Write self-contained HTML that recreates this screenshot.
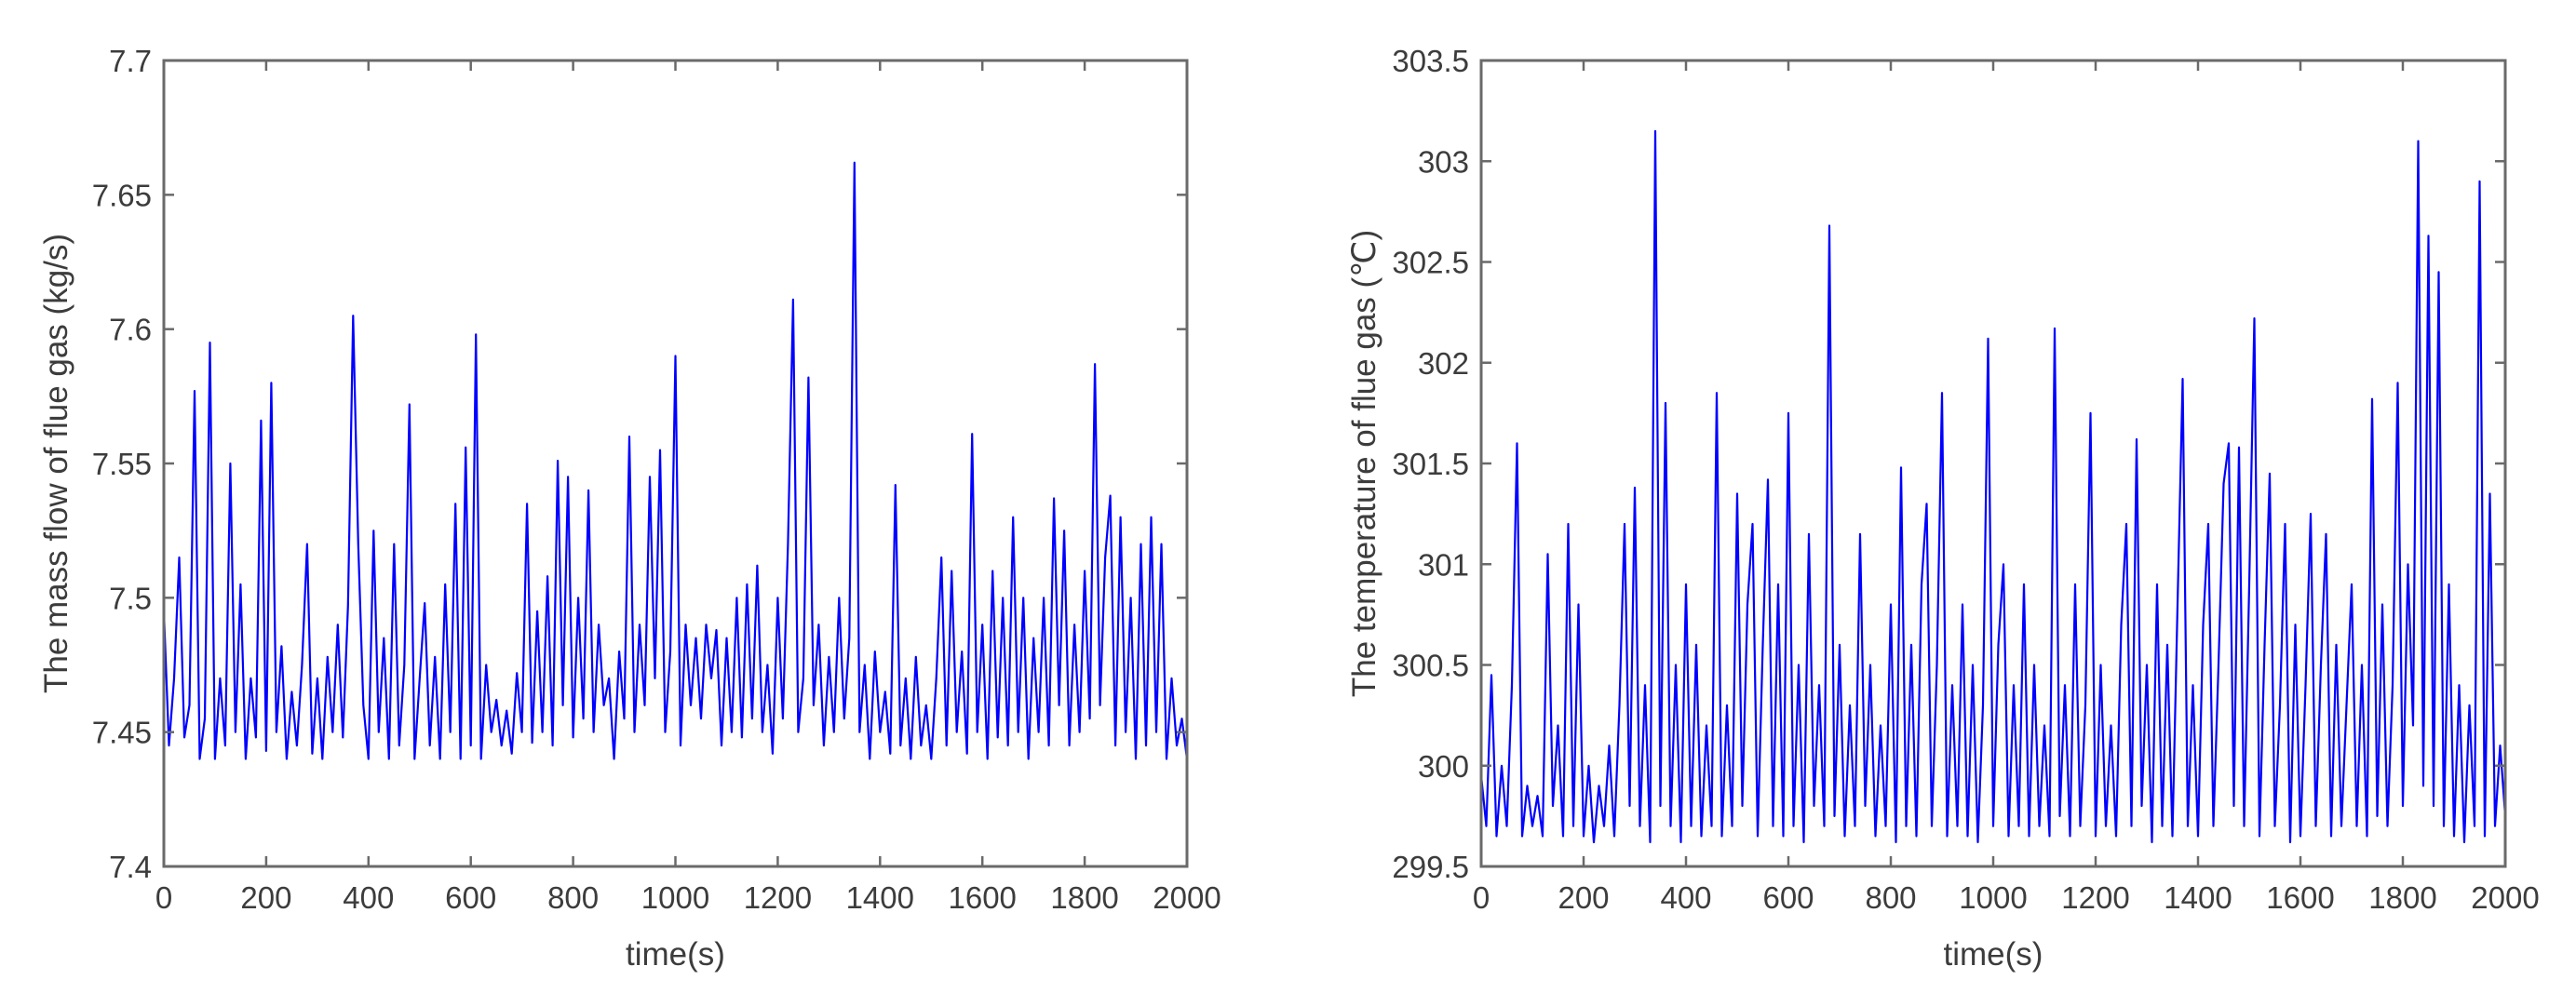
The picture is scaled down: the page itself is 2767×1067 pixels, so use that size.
<!DOCTYPE html>
<html><head><meta charset="utf-8"><style>
html,body{margin:0;padding:0;background:#fff;}
svg{display:block;}
text{font-family:"Liberation Sans",sans-serif;fill:#3c3c3c;}
</style></head><body>
<svg id="fig" width="2767" height="1067" viewBox="0 0 2767 1067" xmlns="http://www.w3.org/2000/svg"></svg>
<script>
const timeStep = 10;
const massFlow = [7.495,7.445,7.47,7.515,7.448,7.46,7.577,7.44,7.455,7.595,7.44,7.47,7.445,7.55,7.45,7.505,7.44,7.47,7.448,7.566,7.443,7.58,7.45,7.482,7.44,7.465,7.445,7.475,7.52,7.442,7.47,7.44,7.478,7.45,7.49,7.448,7.497,7.605,7.52,7.46,7.44,7.525,7.45,7.485,7.44,7.52,7.445,7.475,7.572,7.44,7.47,7.498,7.445,7.478,7.44,7.505,7.45,7.535,7.44,7.556,7.445,7.598,7.44,7.475,7.45,7.462,7.445,7.458,7.442,7.472,7.45,7.535,7.446,7.495,7.45,7.508,7.445,7.551,7.46,7.545,7.448,7.5,7.455,7.54,7.45,7.49,7.46,7.47,7.44,7.48,7.455,7.56,7.45,7.49,7.46,7.545,7.47,7.555,7.45,7.48,7.59,7.445,7.49,7.46,7.485,7.455,7.49,7.47,7.488,7.445,7.485,7.45,7.5,7.448,7.505,7.455,7.512,7.45,7.475,7.442,7.5,7.455,7.52,7.611,7.45,7.47,7.582,7.46,7.49,7.445,7.478,7.45,7.5,7.455,7.485,7.662,7.45,7.475,7.44,7.48,7.45,7.465,7.442,7.542,7.445,7.47,7.44,7.478,7.445,7.46,7.44,7.47,7.515,7.445,7.51,7.45,7.48,7.442,7.561,7.45,7.49,7.44,7.51,7.448,7.5,7.445,7.53,7.45,7.5,7.44,7.485,7.45,7.5,7.445,7.537,7.46,7.525,7.445,7.49,7.45,7.51,7.455,7.587,7.46,7.515,7.538,7.445,7.53,7.45,7.5,7.44,7.52,7.445,7.53,7.45,7.52,7.44,7.47,7.445,7.455,7.44];
const temperature = [299.95,299.7,300.45,299.65,300.0,299.7,300.4,301.6,299.65,299.9,299.7,299.85,299.65,301.05,299.8,300.2,299.65,301.2,299.7,300.8,299.65,300.0,299.62,299.9,299.7,300.1,299.65,300.3,301.2,299.8,301.38,299.7,300.4,299.62,303.15,299.8,301.8,299.7,300.5,299.62,300.9,299.7,300.6,299.65,300.2,299.7,301.85,299.65,300.3,299.7,301.35,299.8,300.8,301.2,299.65,300.6,301.42,299.7,300.9,299.65,301.75,299.7,300.5,299.62,301.15,299.8,300.4,299.7,302.68,299.75,300.6,299.65,300.3,299.7,301.15,299.8,300.5,299.65,300.2,299.7,300.8,299.62,301.48,299.7,300.6,299.65,300.9,301.3,299.7,300.5,301.85,299.65,300.4,299.7,300.8,299.65,300.5,299.62,300.3,302.12,299.7,300.6,301.0,299.65,300.4,299.7,300.9,299.65,300.5,299.7,300.2,299.65,302.17,299.75,300.4,299.65,300.9,299.7,300.3,301.75,299.65,300.5,299.7,300.2,299.65,300.7,301.2,299.7,301.62,299.8,300.5,299.62,300.9,299.7,300.6,299.65,300.8,301.92,299.7,300.4,299.65,300.7,301.2,299.7,300.5,301.4,301.6,299.8,301.58,299.7,300.9,302.22,299.65,300.6,301.45,299.7,300.3,301.2,299.62,300.7,299.65,300.4,301.25,299.7,300.5,301.15,299.65,300.6,299.7,300.3,300.9,299.7,300.5,299.65,301.82,299.75,300.8,299.7,300.4,301.9,299.8,301.0,300.2,303.1,299.9,302.63,299.8,302.45,299.7,300.9,299.65,300.4,299.62,300.3,299.7,302.9,299.65,301.35,299.7,300.1,299.75];
const xTicks = [0,200,400,600,800,1000,1200,1400,1600,1800,2000];
const leftYTicks = [7.4,7.45,7.5,7.55,7.6,7.65,7.7];
const leftYLabels = ["7.4","7.45","7.5","7.55","7.6","7.65","7.7"];
const rightYTicks = [299.5,300,300.5,301,301.5,302,302.5,303,303.5];
const rightYLabels = ["299.5","300","300.5","301","301.5","302","302.5","303","303.5"];

const NS = "http://www.w3.org/2000/svg";
const svg = document.getElementById('fig');
function mk(tag, attrs, parent){ const e=document.createElementNS(NS,tag); for(const k in attrs) e.setAttribute(k,attrs[k]); (parent||svg).appendChild(e); return e; }

function drawPanel(cfg){
  const g = mk('g',{});
  
  
  const {x0,x1,y0,y1,ymin,ymax} = cfg;
  const sx = v => x0 + (v-0)/(2000-0)*(x1-x0);
  const sy = v => y1 - (v-ymin)/(ymax-ymin)*(y1-y0);
  let d = '';
  cfg.data.forEach((v,i)=>{ d += (i?'L':'M') + sx(i*timeStep).toFixed(1) + ' ' + sy(v).toFixed(1); });
  const line = mk('path',{d:d,fill:'none',stroke:'#0000ff','stroke-width':2.2,'stroke-linejoin':'round'},g);
  
  
  const box = mk('rect',{x:x0,y:y0,width:x1-x0,height:y1-y0,fill:'none',stroke:'#6a6a6a','stroke-width':3},g);
  
  
  xTicks.forEach(t=>{
    const x = sx(t);
    mk('line',{x1:x,x2:x,y1:y1,y2:y1-11,stroke:'#6a6a6a','stroke-width':2.5},g);
    mk('line',{x1:x,x2:x,y1:y0,y2:y0+11,stroke:'#6a6a6a','stroke-width':2.5},g);
    const tx = mk('text',{x:x,y:y1+45,'font-size':33,'text-anchor':'middle'},g);
    tx.textContent = t;
    
    
  });
  cfg.yTicks.forEach((t,i)=>{
    const y = sy(t);
    mk('line',{x1:x0,x2:x0+11,y1:y,y2:y,stroke:'#6a6a6a','stroke-width':2.5},g);
    mk('line',{x1:x1,x2:x1-11,y1:y,y2:y,stroke:'#6a6a6a','stroke-width':2.5},g);
    const ty = mk('text',{x:x0-13,y:y+12,'font-size':33,'text-anchor':'end'},g);
    ty.textContent = cfg.yLabels[i];
    
    
  });
  const xt = mk('text',{x:(x0+x1)/2,y:1037,'font-size':35,'text-anchor':'middle'},g);
  xt.textContent = 'time(s)';
  
  
  const yt = mk('text',{x:0,y:0,'font-size':35,'text-anchor':'middle',transform:`translate(${cfg.titleX},${(y0+y1)/2}) rotate(-90)`},g);
  yt.textContent = cfg.yTitle;
  
  
}
drawPanel({name:'mass-flow-chart',x0:176,x1:1275,y0:65,y1:931,ymin:7.4,ymax:7.7,data:massFlow,yTicks:leftYTicks,yLabels:leftYLabels,titleX:72,yTitle:'The mass flow of flue gas (kg/s)'});
drawPanel({name:'temperature-chart',x0:1591,x1:2691,y0:65,y1:931,ymin:299.5,ymax:303.5,data:temperature,yTicks:rightYTicks,yLabels:rightYLabels,titleX:1477,yTitle:'The temperature of flue gas (\u2103)'});
</script>
</body></html>
